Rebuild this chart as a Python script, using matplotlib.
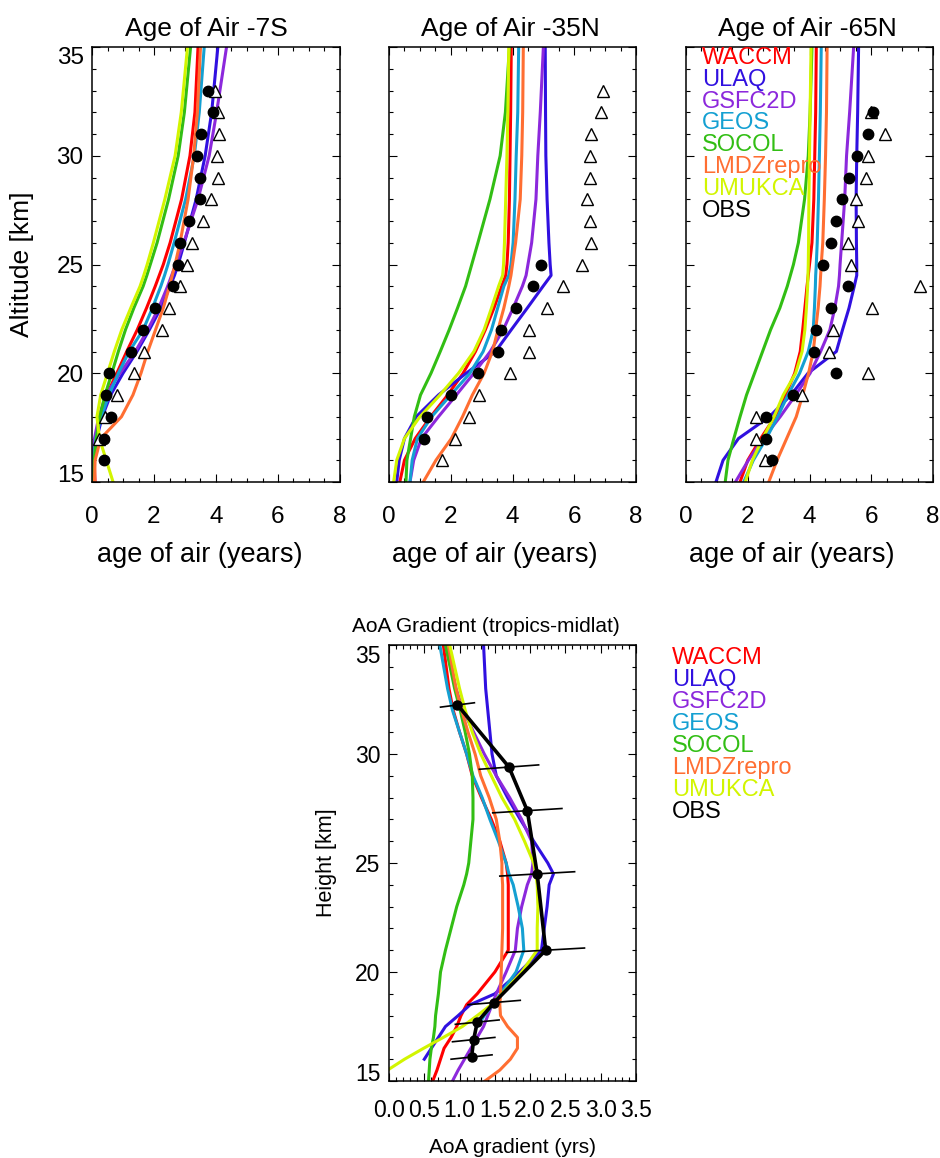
import numpy as np
import matplotlib
matplotlib.use('Agg')
import matplotlib.pyplot as plt
from matplotlib.ticker import MultipleLocator, FormatStrFormatter

plt.rcParams['font.family'] = ['Liberation Sans', 'DejaVu Sans']

nan = np.nan

# model names and colours (legend order)
models = ['WACCM', 'ULAQ', 'GSFC2D', 'GEOS', 'SOCOL', 'LMDZrepro', 'UMUKCA']
colors = ['#ff0000', '#3010e0', '#8c28dc', '#14a0d2', '#32be14', '#ff6e32', '#d2f500']

# altitude levels (km) for the age-of-air profiles
lev = [15, 16, 17, 18, 19, 20, 21, 22, 23, 24, 24.5, 25, 26, 28, 30, 32, 35]

# Age of air, -7S (years)
waccm_7s = [0.10, 0.07, 0.12, 0.25, 0.47, 0.80, 1.12, 1.46, 1.76, 2.04, 2.17, 2.30, 2.52, 2.89, 3.16, 3.32, 3.42]
ulaq_7s = [0.00, 0.05, 0.15, 0.33, 0.60, 1.00, 1.45, 1.85, 2.22, 2.52, 2.66, 2.78, 2.98, 3.36, 3.65, 3.86, 4.06]
gsfc_7s = [0.00, 0.02, 0.08, 0.22, 0.45, 0.90, 1.40, 1.80, 2.15, 2.44, 2.57, 2.70, 2.96, 3.42, 3.78, 4.02, 4.34]
geos_7s = [0.03, 0.05, 0.12, 0.30, 0.55, 0.85, 1.20, 1.65, 1.95, 2.22, 2.34, 2.45, 2.65, 3.02, 3.30, 3.46, 3.62]
socol_7s = [0.05, 0.07, 0.14, 0.25, 0.42, 0.64, 0.85, 1.08, 1.35, 1.65, 1.77, 1.88, 2.10, 2.47, 2.78, 2.98, 3.18]
lmdz_7s = [0.08, 0.10, 0.28, 0.95, 1.32, 1.58, 1.80, 2.05, 2.30, 2.50, 2.59, 2.68, 2.84, 3.10, 3.28, 3.40, 3.50]
umukca_7s = [0.68, 0.46, 0.24, 0.16, 0.28, 0.50, 0.72, 0.96, 1.25, 1.55, 1.67, 1.78, 1.98, 2.35, 2.68, 2.88, 3.08]

# Age of air, -35N
waccm_35n = [0.35, 0.50, 0.85, 1.35, 1.90, 2.40, 2.80, 3.12, 3.40, 3.65, 3.78, 3.82, 3.86, 3.90, 3.92, 3.94, 3.96]
ulaq_35n = [0.25, 0.33, 0.50, 0.88, 1.60, 2.50, 3.45, 3.96, 4.48, 4.99, 5.25, 5.22, 5.18, 5.12, 5.08, 5.07, 5.06]
gsfc_35n = [0.68, 0.80, 1.05, 1.60, 2.18, 2.75, 3.28, 3.70, 4.02, 4.32, 4.44, 4.50, 4.62, 4.76, 4.82, 4.90, 5.00]
geos_35n = [0.68, 0.75, 0.92, 1.38, 2.00, 2.62, 3.05, 3.32, 3.52, 3.72, 3.88, 3.95, 4.02, 4.08, 4.12, 4.17, 4.20]
socol_35n = [0.55, 0.58, 0.70, 0.82, 1.02, 1.36, 1.66, 1.95, 2.22, 2.48, 2.58, 2.68, 2.88, 3.27, 3.60, 3.77, 3.90]
lmdz_35n = [1.11, 1.52, 2.02, 2.38, 2.70, 3.08, 3.35, 3.53, 3.72, 3.88, 3.95, 4.00, 4.10, 4.25, 4.30, 4.33, 4.35]
umukca_35n = [0.15, 0.25, 0.50, 1.00, 1.65, 2.25, 2.75, 3.08, 3.32, 3.55, 3.68, 3.71, 3.74, 3.78, 3.82, 3.85, 3.88]

# Age of air, -65N
waccm_65n = [1.75, 2.00, 2.42, 2.88, 3.22, 3.52, 3.70, 3.78, 3.85, 3.92, 3.96, 4.00, 4.08, 4.14, 4.17, 4.20, 4.22]
ulaq_65n = [0.97, 1.20, 1.70, 2.70, 3.40, 3.95, 4.87, 5.07, 5.28, 5.45, 5.53, 5.53, 5.52, 5.51, 5.53, 5.56, 5.59]
gsfc_65n = [1.60, 2.02, 2.50, 3.05, 3.55, 4.02, 4.36, 4.66, 4.82, 4.94, 4.97, 4.99, 5.04, 5.14, 5.20, 5.30, 5.43]
geos_65n = [1.87, 2.18, 2.60, 2.97, 3.30, 3.68, 3.96, 4.12, 4.16, 4.19, 4.20, 4.22, 4.25, 4.29, 4.32, 4.35, 4.38]
socol_65n = [1.27, 1.36, 1.55, 1.75, 1.96, 2.22, 2.48, 2.74, 3.04, 3.28, 3.38, 3.48, 3.64, 3.84, 3.96, 4.02, 4.08]
lmdz_65n = [2.68, 2.95, 3.26, 3.57, 3.78, 3.97, 4.12, 4.20, 4.28, 4.34, 4.36, 4.38, 4.43, 4.48, 4.52, 4.55, 4.57]
umukca_65n = [1.92, 2.15, 2.48, 2.85, 3.15, 3.55, 3.76, 3.85, 3.90, 3.94, 3.95, 3.96, 3.97, 3.98, 4.00, 4.02, 4.05]

# observations (filled circles / open triangles)
dot_km_7s = list(range(16, 34))
dot_7s = [0.39, 0.40, 0.61, 0.45, 0.56, 1.26, 1.63, 2.04, 2.60, 2.78, 2.84, 3.13, 3.48, 3.49, 3.40, 3.52, 3.91, 3.75]
tri_km_7s = list(range(17, 34))
tri_7s = [0.24, 0.42, 0.82, 1.35, 1.68, 2.27, 2.48, 2.84, 3.08, 3.24, 3.59, 3.84, 4.08, 4.04, 4.11, 4.08, 3.97]

dot_km_35n = list(range(17, 26))
dot_35n = [1.13, 1.22, 2.02, 2.88, 3.53, 3.63, 4.12, 4.66, 4.92]
tri_km_35n = list(range(16, 34))
tri_35n = [1.73, 2.15, 2.58, 2.90, 3.92, 4.52, 4.55, 5.11, 5.65, 6.25, 6.54, 6.51, 6.40, 6.52, 6.52, 6.55, 6.86, 6.94]

dot_km_65n = list(range(16, 33))
dot_65n = [2.78, 2.58, 2.58, 3.46, 4.86, 4.16, 4.22, 4.70, 5.24, 4.43, 4.70, 4.86, 5.04, 5.29, 5.54, 5.91, 6.06]
tri_km_65n = list(range(16, 33))
tri_65n = [2.57, 2.28, 2.26, 3.75, 5.89, 4.62, 4.77, 6.02, 7.58, 5.34, 5.24, 5.56, 5.51, 5.83, 5.88, 6.44, 5.99]

# AoA gradient (tropics - midlat), years
levg = [15, 15.5, 16, 16.5, 17, 17.5, 18, 18.5, 19, 20, 21, 22, 23, 24, 24.5, 25, 26, 27, 28, 29, 30, 31, 32, 33, 35]
waccm_g = [0.62, 0.68, 0.73, 0.78, 0.88, 0.96, 1.02, 1.10, 1.25, 1.50, 1.69, 1.69, 1.69, 1.69, 1.68, 1.66, 1.57, 1.45, 1.31, 1.18, 1.10, 1.00, 0.91, 0.85, 0.77]
ulaq_g = [nan, nan, 0.50, 0.60, 0.70, 0.80, 0.98, 1.15, 1.50, 1.85, 2.16, 2.20, 2.24, 2.27, 2.33, 2.25, 2.05, 1.86, 1.68, 1.52, 1.46, 1.43, 1.40, 1.37, 1.34]
gsfc_g = [0.90, 0.98, 1.07, 1.16, 1.25, 1.34, 1.40, 1.46, 1.52, 1.66, 1.79, 1.82, 1.88, 1.96, 2.02, 2.04, 2.02, 1.88, 1.71, 1.52, 1.35, 1.20, 1.05, 0.95, 0.80]
geos_g = [nan, nan, nan, nan, nan, 1.25, 1.35, 1.47, 1.58, 1.80, 1.91, 1.89, 1.83, 1.76, 1.70, 1.66, 1.55, 1.43, 1.32, 1.19, 1.10, 1.00, 0.90, 0.83, 0.72]
socol_g = [0.56, 0.57, 0.58, 0.60, 0.63, 0.65, 0.66, 0.68, 0.70, 0.73, 0.80, 0.88, 0.96, 1.06, 1.10, 1.13, 1.16, 1.19, 1.19, 1.18, 1.14, 1.08, 1.01, 0.93, 0.80]
lmdz_g = [1.36, 1.57, 1.72, 1.82, 1.82, 1.68, 1.58, 1.57, 1.58, 1.59, 1.60, 1.61, 1.61, 1.61, 1.60, 1.60, 1.57, 1.52, 1.42, 1.30, 1.22, 1.12, 1.03, 0.95, 0.84]
umukca_g = [nan, -0.02, 0.22, 0.49, 0.77, 1.04, 1.25, 1.45, 1.60, 1.88, 2.10, 2.10, 2.11, 2.10, 2.08, 2.05, 1.92, 1.78, 1.60, 1.45, 1.30, 1.18, 1.08, 1.00, 0.86]

obs_km_g = [16.1, 16.9, 17.7, 18.6, 21.0, 24.5, 27.4, 29.4, 32.25]
obs_g = [1.17, 1.20, 1.25, 1.49, 2.22, 2.10, 1.96, 1.70, 0.97]
obs_err_g = [0.29, 0.30, 0.31, 0.37, 0.55, 0.53, 0.49, 0.42, 0.24]

W, H = 940, 1158
fig = plt.figure(figsize=(W / 100, H / 100), dpi=100)


def px_axes(x0, y0, x1, y1):
    return fig.add_axes([x0 / W, 1 - y1 / H, (x1 - x0) / W, (y1 - y0) / H])


def style(ax, xmaj, xmin, xpad, fs):
    ax.set_ylim(15, 35)
    ax.xaxis.set_major_locator(MultipleLocator(xmaj))
    ax.xaxis.set_minor_locator(MultipleLocator(xmin))
    ax.set_yticks([15, 20, 25, 30, 35])
    ax.yaxis.set_minor_locator(MultipleLocator(1))
    ax.tick_params(which='both', direction='in', top=True, right=True, width=0.8)
    ax.tick_params(which='major', length=6)
    ax.tick_params(which='minor', length=3)
    ax.tick_params(axis='x', labelsize=fs, pad=xpad)
    ax.tick_params(axis='y', labelsize=fs, pad=6)
    for s in ax.spines.values():
        s.set_linewidth(1.1)


panels = [
    ((92, 47, 340, 482), 'Age of Air -7S', 0.46,
     [waccm_7s, ulaq_7s, gsfc_7s, geos_7s, socol_7s, lmdz_7s, umukca_7s],
     (dot_km_7s, dot_7s), (tri_km_7s, tri_7s)),
    ((389, 47, 636, 482), 'Age of Air -35N', 0.49,
     [waccm_35n, ulaq_35n, gsfc_35n, geos_35n, socol_35n, lmdz_35n, umukca_35n],
     (dot_km_35n, dot_35n), (tri_km_35n, tri_35n)),
    ((686, 47, 933, 482), 'Age of Air -65N', 0.49,
     [waccm_65n, ulaq_65n, gsfc_65n, geos_65n, socol_65n, lmdz_65n, umukca_65n],
     (dot_km_65n, dot_65n), (tri_km_65n, tri_65n)),
]

top_axes = []
for i, (box, title, tx, series, dots, tris) in enumerate(panels):
    ax = px_axes(*box)
    for vals, c in zip(series, colors):
        ax.plot(vals, lev, color=c, lw=2.2, solid_joinstyle='round')
    ax.plot(tris[1], tris[0], ls='none', marker='^', ms=8, mfc='white',
            mec='black', mew=1.0, clip_on=False)
    ax.plot(dots[1], dots[0], ls='none', marker='o', ms=7.5, color='black')
    ax.set_xlim(0, 8)
    style(ax, 2, 0.5, 17, 17.5)
    ax.set_xlabel('age of air (years)', fontsize=19.5)
    ax.xaxis.set_label_coords((200 - 92) / 248 - 0.0 if i == 0 else 0.43, -0.168)
    ax.xaxis.label.set_va('center')
    ax.text(tx, 1 + 11 / 435, title, transform=ax.transAxes, ha='center',
            va='baseline', fontsize=19)
    if i == 0:
        ax.set_ylabel('Altitude [km]', fontsize=19)
        ax.yaxis.set_label_coords(-0.282, 0.5)
        ax.yaxis.label.set_va('center')
        labs = ax.get_yticklabels()
        labs[0].set_va('baseline')
        labs[-1].set_va('top')
    else:
        ax.set_yticklabels([])
    top_axes.append(ax)

# legend inside the -65N panel
for j, (name, c) in enumerate(zip(models + ['OBS'], colors + ['black'])):
    top_axes[2].text(0.065, 1 - (11 + 21.8 * j) / 435, name, color=c, fontsize=17,
                     transform=top_axes[2].transAxes, ha='left', va='center')

# gradient panel
axg = px_axes(389, 645, 636, 1081)
grad_series = [waccm_g, ulaq_g, gsfc_g, geos_g, socol_g, lmdz_g, umukca_g]
for vals, c in zip(grad_series, colors):
    axg.plot(vals, levg, color=c, lw=2.2, solid_joinstyle='round')
for v, k, e in zip(obs_g, obs_km_g, obs_err_g):
    axg.plot([v - e, v + e], [k - 0.1, k + 0.1], color='black', lw=1.2)
axg.plot(obs_g, obs_km_g, color='black', lw=2.6, marker='o', ms=6.5)
axg.set_xlim(0, 3.5)
style(axg, 0.5, 0.1, 13, 16.5)
axg.xaxis.set_major_formatter(FormatStrFormatter('%.1f'))
axg.set_xlabel('AoA gradient (yrs)', fontsize=15)
axg.xaxis.set_label_coords(0.5, -0.152)
axg.xaxis.label.set_va('center')
axg.set_ylabel('Height [km]', fontsize=15.5)
axg.yaxis.set_label_coords(-0.255, 0.5)
axg.yaxis.label.set_va('center')
labs = axg.get_yticklabels()
labs[0].set_va('baseline')
labs[-1].set_va('top')
axg.text(0.393, 1 + 12.5 / 436, 'AoA Gradient (tropics-midlat)', transform=axg.transAxes,
         ha='center', va='baseline', fontsize=15)

for j, (name, c) in enumerate(zip(models + ['OBS'], colors + ['black'])):
    fig.text(672 / W, 1 - (658 + 22 * j) / H, name, color=c, fontsize=17,
             ha='left', va='center')

fig.savefig('out.png', dpi=100)
